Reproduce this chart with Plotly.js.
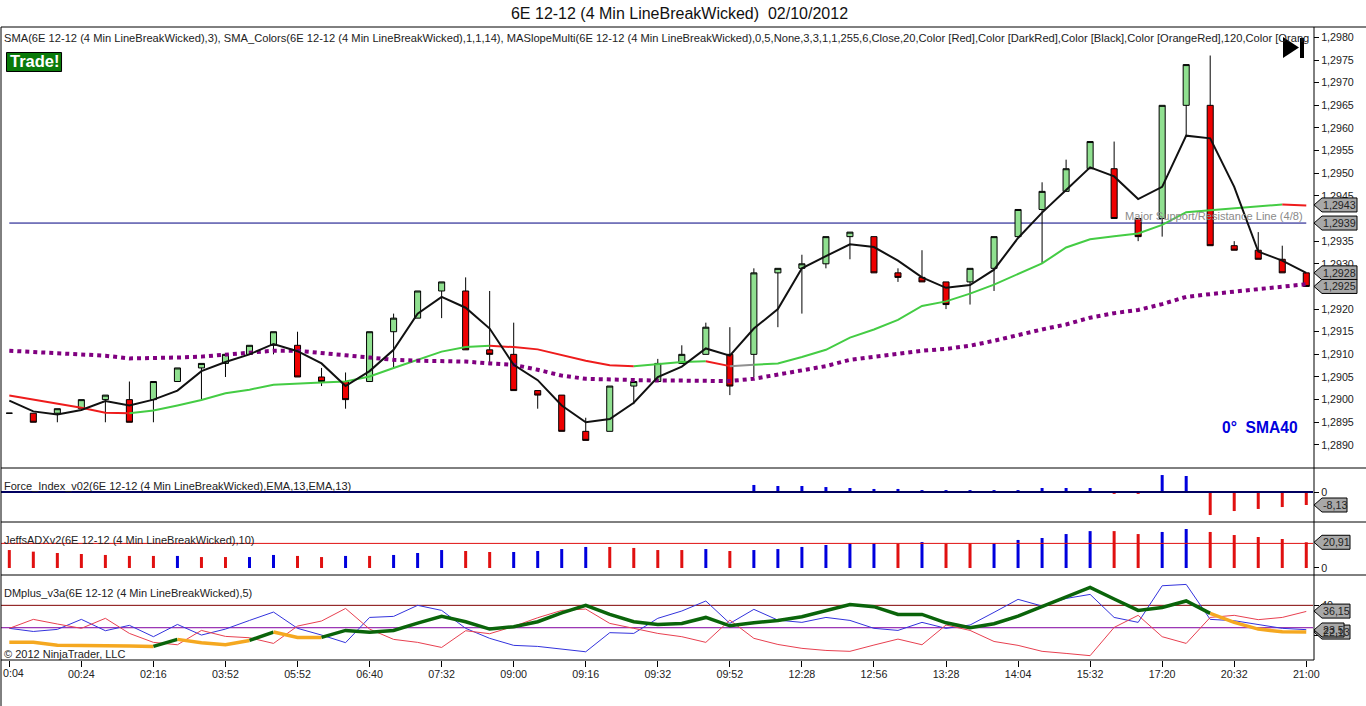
<!DOCTYPE html>
<html><head><meta charset="utf-8">
<script src="https://cdn.plot.ly/plotly-3.0.1.min.js"></script>
<style>html,body{margin:0;padding:0;background:#fff;overflow:hidden}#c{width:1366px;height:706px}</style>
</head><body><div id="c"></div>
<script>
const timeLabels=["0:04","00:24","02:16","03:52","05:52","06:40","07:32","09:00","09:16","09:32","09:52","12:28","12:56","13:28","14:04","15:32","17:20","20:32","21:00"];
const timeBars=[0,3,6,9,12,15,18,21,24,27,30,33,36,39,42,45,48,51,54];
const priceTicks=[1.2890,1.2895,1.2900,1.2905,1.2910,1.2915,1.2920,1.2925,1.2930,1.2935,1.2945,1.2950,1.2955,1.2960,1.2965,1.2970,1.2975,1.2980];
const barOpen=[1.2897,1.2897,1.2897,1.2898,1.2900,1.2900,1.2900,1.2904,1.2907,1.2908,1.2910,1.2912,1.2912,1.2905,1.2904,1.2904,1.2915,1.2918,1.2924,1.2924,1.2911,1.2910,1.2902,1.2901,1.2893,1.2893,1.2903,1.2904,1.2908,1.2910,1.2910,1.2910,1.2928,1.2929,1.2930,1.2936,1.2936,1.2928,1.2927,1.2926,1.2926,1.2929,1.2936,1.2942,1.2946,1.2951,1.2951,1.2940,1.2940,1.2965,1.2965,1.2934,1.2933,1.2931,1.2928];
const barHigh=[1.2897,1.2897,1.2898,1.2900,1.2901,1.2904,1.2904,1.2907,1.2908,1.2910,1.2912,1.2915,1.2915,1.2907,1.2906,1.2915,1.2919,1.2924,1.2926,1.2927,1.2924,1.2917,1.2902,1.2901,1.2896,1.2903,1.2904,1.2909,1.2912,1.2917,1.2916,1.2929,1.2929,1.2932,1.2936,1.2937,1.2936,1.2929,1.2933,1.2926,1.2929,1.2936,1.2942,1.2948,1.2953,1.2957,1.2957,1.2940,1.2965,1.2974,1.2976,1.2935,1.2937,1.2934,1.2928];
const barLow=[1.2897,1.2895,1.2895,1.2898,1.2895,1.2895,1.2895,1.2904,1.2900,1.2905,1.2910,1.2910,1.2905,1.2903,1.2898,1.2904,1.2907,1.2918,1.2918,1.2911,1.2908,1.2902,1.2898,1.2893,1.2891,1.2893,1.2899,1.2904,1.2908,1.2910,1.2901,1.2905,1.2916,1.2919,1.2929,1.2931,1.2928,1.2926,1.2926,1.2920,1.2921,1.2924,1.2936,1.2930,1.2946,1.2951,1.2940,1.2935,1.2936,1.2958,1.2934,1.2933,1.2931,1.2928,1.2925];
const barClose=[1.2897,1.2895,1.2898,1.2900,1.2901,1.2895,1.2904,1.2907,1.2908,1.2910,1.2912,1.2915,1.2905,1.2904,1.2900,1.2915,1.2918,1.2924,1.2926,1.2911,1.2910,1.2902,1.2901,1.2893,1.2891,1.2903,1.2904,1.2908,1.2910,1.2916,1.2903,1.2928,1.2929,1.2930,1.2936,1.2937,1.2928,1.2927,1.2926,1.2921,1.2929,1.2936,1.2942,1.2946,1.2951,1.2957,1.2940,1.2936,1.2965,1.2974,1.2934,1.2933,1.2931,1.2928,1.2925];
const smaFast=[1.28998,1.28974,1.28967,1.28977,1.28997,1.28987,1.29000,1.29020,1.29063,1.29083,1.29100,1.29123,1.29107,1.29080,1.29030,1.29063,1.29110,1.29190,1.29227,1.29203,1.29157,1.29077,1.29043,1.28987,1.28950,1.28957,1.28993,1.29050,1.29073,1.29113,1.29097,1.29157,1.29200,1.29290,1.29317,1.29343,1.29337,1.29307,1.29270,1.29247,1.29253,1.29287,1.29357,1.29413,1.29463,1.29513,1.29493,1.29443,1.29470,1.29583,1.29577,1.29470,1.29327,1.29307,1.29280];
const smaMid=[1.29009,1.29000,1.28992,1.28982,1.28971,1.28970,1.28976,1.28987,1.28999,1.29014,1.29022,1.29033,1.29036,1.29038,1.29040,1.29051,1.29070,1.29088,1.29106,1.29116,1.29119,1.29116,1.29111,1.29099,1.29086,1.29076,1.29074,1.29078,1.29083,1.29085,1.29074,1.29077,1.29080,1.29094,1.29110,1.29137,1.29155,1.29176,1.29207,1.29217,1.29234,1.29254,1.29277,1.29301,1.29336,1.29354,1.29361,1.29367,1.29386,1.29414,1.29418,1.29422,1.29426,1.29431,1.29429];
const smaMidRuns=[[0,5,"down"],[5,20,"up"],[20,26,"down"],[26,29,"up"],[29,30,"down"],[30,31,"flat"],[31,53,"up"],[53,54,"down"]];
const sma40=[1.29108,1.29105,1.29101,1.29099,1.29097,1.29091,1.29091,1.29093,1.29095,1.29099,1.29105,1.29108,1.29108,1.29104,1.29098,1.29093,1.29088,1.29086,1.29085,1.29084,1.29080,1.29077,1.29066,1.29053,1.29046,1.29044,1.29042,1.29042,1.29042,1.29042,1.29041,1.29046,1.29055,1.29065,1.29074,1.29088,1.29095,1.29101,1.29108,1.29112,1.29119,1.29130,1.29143,1.29155,1.29166,1.29181,1.29191,1.29198,1.29211,1.29227,1.29233,1.29238,1.29244,1.29248,1.29255];
const supportLevel=1.2939;
const forceIndex=[-0.6,-0.6,-0.6,0.2,0.2,-0.3,-0.3,0.2,0.2,0.2,0.2,0.2,-0.3,-0.3,-0.3,0.2,0.2,0.2,0.2,-0.3,-0.3,-0.3,-0.3,-0.3,-0.3,0.2,0.2,0.2,0.2,0.2,-0.3,4.4,3.75,3.75,3.1,2.5,1.9,1.9,1.2,1.2,1.2,1.2,1.2,2.5,2.5,2.5,-1.2,-1.2,10.6,10,-14.4,-11.9,-10.6,-9.4,-8.13];
const adxValues=[14.6,13.3,12.2,11.4,10.6,9.8,9.8,9.8,8.9,8.9,8.9,10.6,9.8,8.9,9.8,9.8,10.6,12.2,14.6,13.8,13,13,13.8,15.4,17.1,17.1,16.3,14.6,14.6,15.4,13.8,14.6,15.4,17.1,18.7,20,20,19.8,21.1,19.8,19.8,20,22.8,24.4,27.6,30,30,27.6,29.3,31.7,29.3,26.8,25.2,23.6,20.91];
const adxRising=[0,0,0,0,0,0,0,1,0,0,1,1,0,0,1,0,1,1,1,0,0,1,1,1,1,0,0,0,0,1,0,1,1,1,1,1,1,0,1,0,0,1,1,1,1,1,0,0,1,1,0,0,0,0,0];
const adxLevel=20;
const diPlus=[24.6,22.5,23.9,30.6,23,26.6,19,27.2,20.1,24.1,29.9,35.5,24.6,20.1,15,31.9,32.6,40,36.6,24.6,17.9,13.2,12.5,10.5,8.9,21.7,21.2,31.3,36.2,42.9,27.9,37.3,30.1,28.6,31.9,29.9,24.6,23.2,28.6,24.6,26.8,35.3,44,39.5,44.6,47.3,31.9,28.6,53.1,54,30.6,29.7,27.2,24.6,23.7];
const diMinus=[24.6,30.6,27.5,24.6,31.3,21.2,15.2,13.6,23.2,19.2,18.3,14.5,26.1,29.5,37.9,24.1,17.2,15.2,11.8,23,21,25.9,31.7,36.6,37.5,27.9,24.6,21.2,19,15.2,30.1,17.9,13.8,11.2,9.8,9.2,13.4,17.4,13.6,26.8,23.2,15.8,13.2,9.2,7.8,6.3,25.2,33.3,19,14.5,31.9,33.3,30.4,31.9,35.9];
const dmAdx=[15.2,15.2,13.2,13.2,12.9,12.7,12.5,17.2,15,13.6,16.5,22.1,18.5,18.5,23.2,21.9,23.2,28.1,32.6,29,24.1,25.7,29,35,40,33.9,29,27.2,27.9,31.9,26.3,28.3,29.9,32.4,36.6,40.6,39.1,33.9,33.9,28.3,25,27.7,32.8,39.3,45.8,52,44.2,36.6,38.6,42.9,34.6,28.6,24.1,22.3,22.1];
const dmAdxRuns=[[0,6,"weak"],[6,7,"strong"],[7,10,"weak"],[10,11,"strong"],[11,13,"weak"],[13,50,"strong"],[50,54,"weak"]];
const dmLevels=[40,25];
const priceTags=[["1,2943",1.2943],["1,2939",1.2939],["1,2928",1.2928],["1,2925",1.2925]];
const lowerTags=[["-8,13",-8.13,"y2",33],["20,91",20.91,"y3",36],["22,13",22.1,"y4",36],["36,15",36.15,"y4",36],["23,5",23.5,"y4",30]];
const headerText="SMA(6E 12-12 (4 Min LineBreakWicked),3), SMA_Colors(6E 12-12 (4 Min LineBreakWicked),1,1,14), MASlopeMulti(6E 12-12 (4 Min LineBreakWicked),0,5,None,3,3,1,1,255,6,Close,20,Color [Red],Color [DarkRed],Color [Black],Color [OrangeRed],120,Color [Orang";

const F="Liberation Sans, Arial, sans-serif", TXT="#222", TICK=10.7;
const idx=barClose.map((_,i)=>i);
const X=p=>(p-1)/1311, Y=p=>(660-p)/633;
const xr=[-0.346,54.28];
const line=(x0,y0,x1,y1)=>({type:"line",xref:"paper",yref:"paper",x0:X(x0),x1:X(x1),y0:Y(y0),y1:Y(y1),line:{color:"#000",width:1},layer:"above"});
const level=(v,yref,color,a,b,layer)=>({type:"line",xref:"x",yref,x0:a,x1:b,y0:v,y1:v,line:{color,width:1},layer});
function runs(vals,list,colors,width,yaxis){return list.map(r=>({type:"scatter",mode:"lines",x:idx.slice(r[0],r[1]+1),y:vals.slice(r[0],r[1]+1),yaxis,line:{color:colors[r[2]],width},hoverinfo:"skip"}));}
const upc="#0000dd",dnc="#e01010";
const traces=[
 {type:"candlestick",x:idx,open:barOpen,high:barHigh,low:barLow,close:barClose,whiskerwidth:0,
  increasing:{line:{color:"#000",width:1},fillcolor:"#90e090"},decreasing:{line:{color:"#000",width:1},fillcolor:"#ee0000"},hoverinfo:"skip"},
 ...runs(smaMid,smaMidRuns,{down:"#ee1c1c",up:"#44cc44",flat:"#909090"},2,"y"),
 {type:"scatter",mode:"lines",x:idx,y:sma40,line:{color:"#800080",width:4,dash:"4px,4px"},hoverinfo:"skip"},
 {type:"scatter",mode:"lines",x:idx,y:smaFast,line:{color:"#111",width:2},hoverinfo:"skip"},
 {type:"bar",x:idx,y:forceIndex,yaxis:"y2",width:0.125,marker:{color:forceIndex.map(v=>v>=0?upc:dnc),line:{width:0}},hoverinfo:"skip"},
 {type:"scatter",mode:"lines",x:xr,y:[0,0],yaxis:"y2",line:{color:"#000060",width:2},hoverinfo:"skip"},
 {type:"bar",x:idx,y:adxValues,yaxis:"y3",width:0.125,marker:{color:adxRising.map(v=>v?upc:dnc),line:{width:0}},hoverinfo:"skip"},
 {type:"scatter",mode:"lines",x:idx,y:diPlus,yaxis:"y4",line:{color:"#3333dd",width:1},hoverinfo:"skip"},
 {type:"scatter",mode:"lines",x:idx,y:diMinus,yaxis:"y4",line:{color:"#e84050",width:1},hoverinfo:"skip"},
 ...runs(dmAdx,dmAdxRuns,{weak:"#f5a820",strong:"#0a640a"},3.5,"y4")
];
const tagShape=(v,yref,w)=>({type:"path",xref:"paper",yref,xsizemode:"pixel",ysizemode:"pixel",xanchor:X(1313),yanchor:v,
  path:`M 0 0 L 8 -7 L ${w} -7 L ${w} 7 L 8 7 Z`,fillcolor:"#a8a8a8",line:{color:"#000",width:1},layer:"above"});
const ann=(text,x,y,o)=>Object.assign({text,x:X(x),y:Y(y),xref:"paper",yref:"paper",xanchor:"left",yanchor:"middle",showarrow:false,font:{family:F,size:11,color:TXT}},o||{});
const tagAnn=(t,v,yref)=>({text:t,xref:"paper",yref,x:X(1320),y:v,xanchor:"left",yanchor:"middle",showarrow:false,font:{family:F,size:TICK,color:"#222"}});
const allTags=[...priceTags.map(t=>[t[0],t[1],"y",43]),...lowerTags];
const shapes=[
 level(supportLevel,"y","#000080",0,54,"below"),
 level(adxLevel,"y3","#e01010",xr[0],xr[1],"above"),
 level(dmLevels[0],"y4","#800000",xr[0],xr[1],"below"),
 level(dmLevels[1],"y4","#8000a0",xr[0],xr[1],"below"),
 line(1,27,1366,27),line(1,468,1366,468),line(1,522,1366,522),line(1,575,1366,575),line(1,660,1313,660),
 line(1,27,1,706),line(1313,27,1313,660),line(1365.5,27,1365.5,575),
 {type:"path",xref:"paper",yref:"paper",path:`M ${X(1282)} ${Y(37)} L ${X(1298)} ${Y(47.5)} L ${X(1282)} ${Y(58)} Z`,fillcolor:"#000",line:{width:0},layer:"above"},
 {type:"rect",xref:"paper",yref:"paper",x0:X(1299),x1:X(1303),y0:Y(38),y1:Y(58),fillcolor:"#000",line:{width:0},layer:"above"},
 {type:"rect",xref:"paper",yref:"paper",x0:X(6.5),x1:X(61.5),y0:Y(52.5),y1:Y(71.5),fillcolor:"#0a7a0a",line:{color:"#000",width:1},layer:"above"},
 ...allTags.map(t=>tagShape(t[1],t[2],t[3]))];
const annotations=[
 ann(headerText,2,38,{font:{family:F,size:11.15,color:TXT}}),
 ann("Trade!",34.5,61.5,{xanchor:"center",font:{family:F,size:16.5,color:"#fff",weight:700}}),
 ann("0°  SMA40",1219,427,{font:{family:F,size:15.6,color:"#0000dd",weight:700}}),
 ann("Major Support/Resistance Line (4/8)",1304,216,{xanchor:"right",font:{family:F,size:11.1,color:"#8a8a8a"}}),
 ann("Force_Index_v02(6E 12-12 (4 Min LineBreakWicked),EMA,13,EMA,13)",2,486),
 ann("JeffsADXv2(6E 12-12 (4 Min LineBreakWicked),10)",2,540),
 ann("DMplus_v3a(6E 12-12 (4 Min LineBreakWicked),5)",2,593),
 ann("© 2012 NinjaTrader, LLC",2,654),
 ann(timeLabels[0],1,673,{font:{family:F,size:TICK,color:TXT}}),
 ...allTags.map(t=>tagAnn(t[0],t[1],t[2]))
];
const yBase={side:"right",anchor:"x",showgrid:false,zeroline:false,showline:false,ticks:"outside",ticklen:5,tickcolor:"#000",tickfont:{family:F,size:TICK,color:TXT}};
const layout={width:1366,height:706,margin:{l:1,r:53,t:27,b:46,pad:0},paper_bgcolor:"#fff",plot_bgcolor:"#fff",showlegend:false,separators:", ",
 hovermode:false,dragmode:false,boxgap:0.64,
 title:{text:"6E 12-12 (4 Min LineBreakWicked)  02/10/2012",x:X(679),xref:"paper",xanchor:"center",y:1-13/706,yref:"container",yanchor:"middle",font:{family:F,size:16,color:"#111"}},
 xaxis:{anchor:"y4",range:xr,tickmode:"array",tickvals:timeBars,ticktext:timeLabels.map((t,i)=>i?t:" "),showgrid:false,zeroline:false,showline:false,ticks:"outside",ticklen:6,tickcolor:"#000",tickangle:0,ticklabelstandoff:-2,tickfont:{family:F,size:TICK,color:TXT},rangeslider:{visible:false},fixedrange:true},
 yaxis:Object.assign({},yBase,{domain:[Y(468),1],range:[1.28849,1.29823],tickmode:"array",tickvals:priceTicks,tickformat:".4f",fixedrange:true}),
 yaxis2:Object.assign({},yBase,{domain:[Y(522),Y(468)],range:[-18.75,15],tickmode:"array",tickvals:[0],ticktext:["0"],fixedrange:true}),
 yaxis3:Object.assign({},yBase,{domain:[Y(575),Y(522)],range:[-5.7,37.4],tickmode:"array",tickvals:[0],ticktext:["0"],fixedrange:true}),
 yaxis4:Object.assign({},yBase,{domain:[0,Y(575)],range:[3.4,60.3],tickmode:"array",tickvals:[20,40],ticktext:["20","40"],fixedrange:true}),
 shapes,annotations};
Plotly.newPlot("c",traces,layout,{displayModeBar:false,staticPlot:true});
</script></body></html>
